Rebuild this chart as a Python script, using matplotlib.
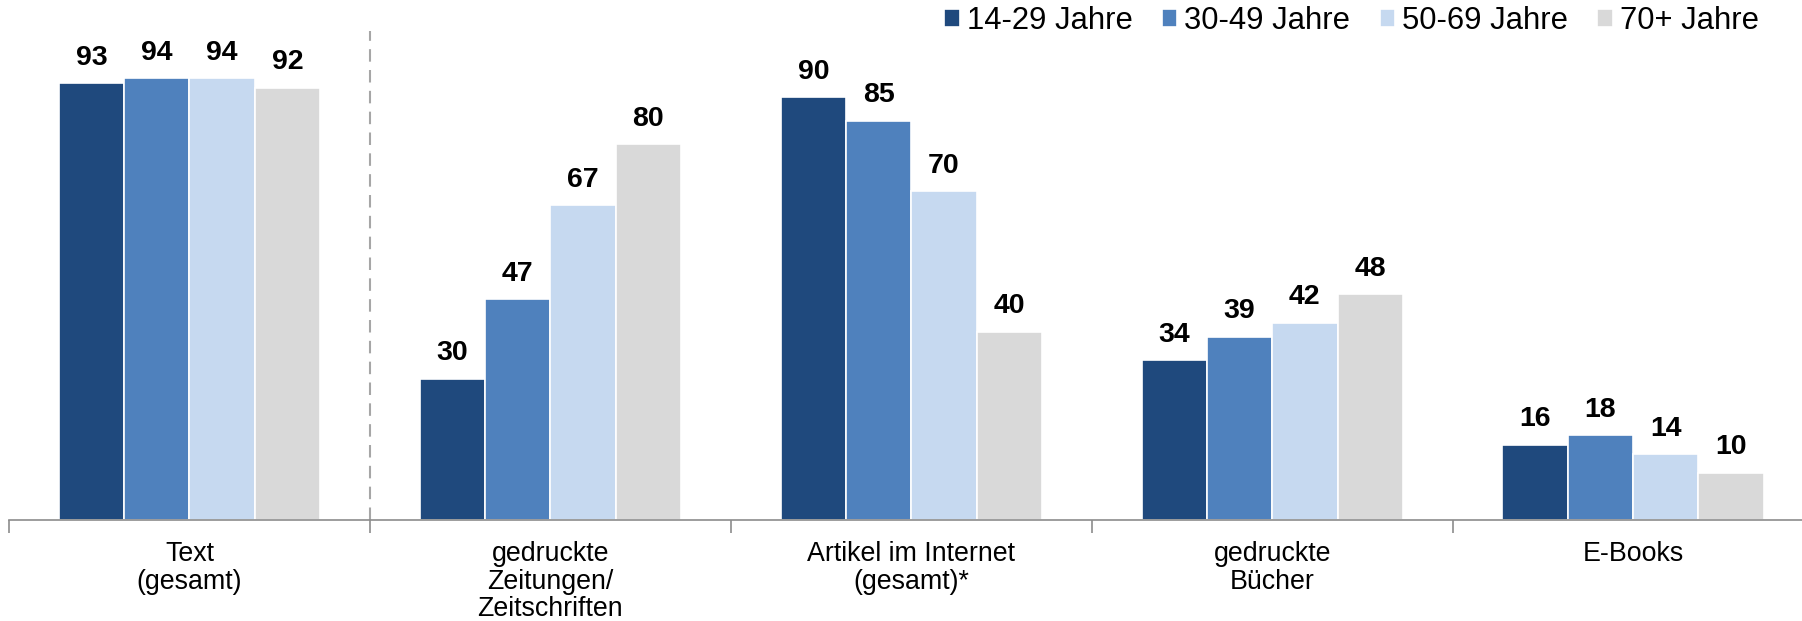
import matplotlib.pyplot as plt
import numpy as np

plt.rcParams["font.family"] = ["Liberation Sans", "DejaVu Sans"]

categories = [
    "Text\n(gesamt)",
    "gedruckte\nZeitungen/\nZeitschriften",
    "Artikel im Internet\n(gesamt)*",
    "gedruckte\nBücher",
    "E-Books",
]
groups = ["14-29 Jahre", "30-49 Jahre", "50-69 Jahre", "70+ Jahre"]
values = {
    "14-29 Jahre": [93, 30, 90, 34, 16],
    "30-49 Jahre": [94, 47, 85, 39, 18],
    "50-69 Jahre": [94, 67, 70, 42, 14],
    "70+ Jahre": [92, 80, 40, 48, 10],
}
colors = ["#1f497d", "#4f81bd", "#c6d9f0", "#d9d9d9"]

fig = plt.figure(figsize=(18.02, 6.21), dpi=100)
ax = fig.add_axes([0.005, 0.163, 0.995, 0.837])

x = np.arange(len(categories))
bar_width = 0.181
for i, g in enumerate(groups):
    pos = x + (i - 1.5) * bar_width
    bars = ax.bar(pos, values[g], bar_width, color=colors[i],
                  edgecolor="white", linewidth=1.2, label=g)
    for b, v in zip(bars, values[g]):
        ax.annotate(str(v), (b.get_x() + b.get_width() / 2, v),
                    xytext=(0, 9), textcoords="offset points",
                    ha="center", va="bottom", fontsize=20.5, fontweight="bold")

# separator between total and sub-categories
ax.plot([0.5, 0.5], [0, 104], color="#a6a6a6", linestyle=(0, (6, 4)),
        linewidth=1.5, clip_on=False)

ax.set_xlim(-0.5, 4.468)
ax.set_ylim(0, 110.7)
ax.set_yticks([])
for s in ["top", "right", "left"]:
    ax.spines[s].set_visible(False)
ax.spines["bottom"].set_color("#8c8c8c")
ax.spines["bottom"].set_linewidth(1.2)

ax.set_xticks(np.arange(-0.5, 4.0, 1.0))
ax.set_xticklabels([])
ax.tick_params(axis="x", length=9, width=1.2, color="#8c8c8c")
for xi, label in zip(x, categories):
    ax.text(xi, -4.5, label, ha="center", va="top", fontsize=19.3,
            linespacing=1.08)

handles, labels = ax.get_legend_handles_labels()
fig.legend(handles, labels, loc="upper right", bbox_to_anchor=(0.976, 0.99),
           ncol=4, frameon=False, fontsize=22.3, handlelength=0.5,
           handleheight=0.5, handletextpad=0.22, columnspacing=0.95,
           borderpad=0, borderaxespad=0)

fig.savefig("out.png", dpi=100)
